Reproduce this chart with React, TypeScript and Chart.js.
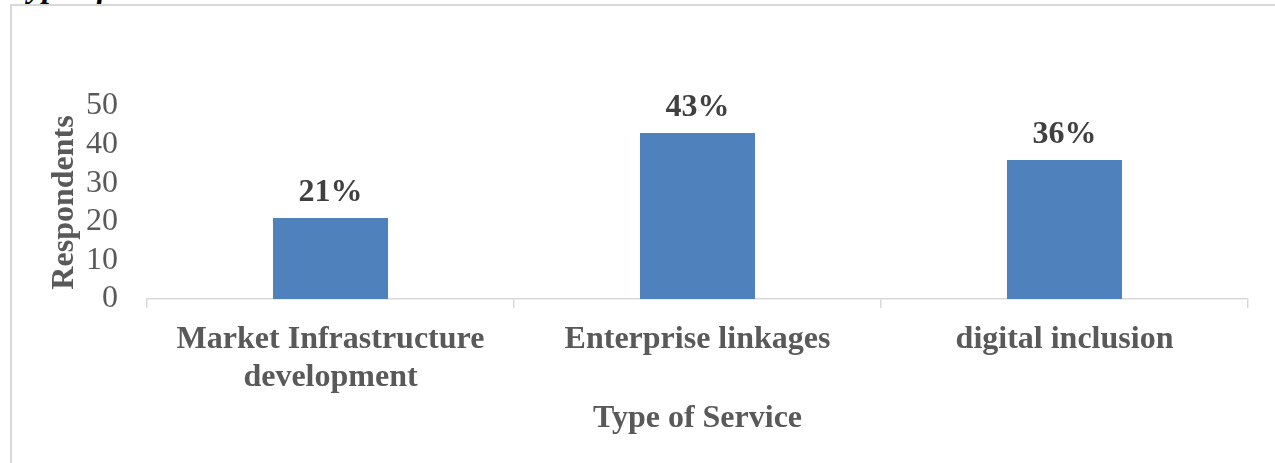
import React, { useEffect, useRef } from "react";
import { Chart, registerables } from "chart.js";

Chart.register(...registerables);

const categories: (string | string[])[] = [
  ["Market Infrastructure", "development"],
  "Enterprise linkages",
  "digital inclusion",
];
const respondents: number[] = [21, 43, 36];
const percentLabels: string[] = ["21%", "43%", "36%"];
const yTicks: number[] = [0, 10, 20, 30, 40, 50];

const SERIF = "'Liberation Serif', 'Times New Roman', serif";

const valueLabelPlugin = {
  id: "valueLabels",
  afterDatasetsDraw(chart: any) {
    const ctx = chart.ctx;
    const meta = chart.getDatasetMeta(0);
    ctx.save();
    ctx.font = `bold 32px ${SERIF}`;
    ctx.fillStyle = "#404040";
    ctx.textAlign = "center";
    ctx.textBaseline = "alphabetic";
    meta.data.forEach((bar: any, i: number) => {
      ctx.fillText(percentLabels[i], bar.x, bar.y - 17);
    });
    ctx.restore();
  },
};

export default function App() {
  const ref = useRef<HTMLCanvasElement | null>(null);

  useEffect(() => {
    if (!ref.current) return;
    const chart = new Chart(ref.current, {
      type: "bar",
      data: {
        labels: categories,
        datasets: [
          {
            label: "Respondents",
            data: respondents,
            backgroundColor: "#4f81bd",
            borderWidth: 0,
            categoryPercentage: 1,
            barPercentage: 0.3135,
          },
        ],
      },
      plugins: [valueLabelPlugin],
      options: {
        animation: false,
        responsive: false,
        maintainAspectRatio: false,
        layout: { padding: { left: 0, right: 27, top: 106, bottom: 0 } },
        plugins: {
          legend: { display: false },
          tooltip: { enabled: false },
        },
        scales: {
          x: {
            afterFit: (scale: any) => {
              scale.height = 164;
            },
            grid: {
              display: true,
              offset: true,
              drawOnChartArea: false,
              drawTicks: true,
              tickLength: 9,
              color: "#d9d9d9",
              lineWidth: 1.5,
            },
            border: { display: true, color: "#d9d9d9", width: 1.5 },
            ticks: {
              color: "#595959",
              padding: 13,
              maxRotation: 0,
              autoSkip: false,
              font: { family: SERIF, size: 32, weight: "bold", lineHeight: 1.19 },
            },
            title: {
              display: true,
              text: "Type of Service",
              color: "#595959",
              padding: { top: 4, bottom: 25 },
              font: { family: SERIF, size: 32, weight: "bold", lineHeight: 1.2 },
            },
          },
          y: {
            min: 0,
            max: 50,
            afterBuildTicks: (axis: any) => {
              axis.ticks = yTicks.map((v) => ({ value: v }));
            },
            afterFit: (scale: any) => {
              scale.width = 147;
            },
            grid: { display: false, drawTicks: false },
            border: { display: false },
            ticks: {
              color: "#595959",
              padding: 29,
              autoSkip: false,
              font: { family: SERIF, size: 32 },
            },
            title: {
              display: true,
              text: "Respondents",
              color: "#595959",
              padding: { top: 46, bottom: 4 },
              font: { family: SERIF, size: 32, weight: "bold", lineHeight: 1.2 },
            },
          },
        },
      },
    });
    return () => chart.destroy();
  }, []);

  return (
    <div
      style={{
        position: "absolute",
        left: 0,
        top: 0,
        width: 1275,
        height: 463,
        overflow: "hidden",
        background: "#ffffff",
      }}
    >
      <div
        style={{
          position: "absolute",
          left: 10,
          top: -30,
          fontFamily: SERIF,
          fontSize: 32,
          lineHeight: "32px",
          fontWeight: "bold",
          fontStyle: "italic",
          color: "#000000",
          whiteSpace: "nowrap",
        }}
      >
        Type of Service
      </div>
      <div
        style={{
          position: "absolute",
          left: 10,
          top: 4,
          width: 1300,
          height: 500,
          borderTop: "2px solid #d9d9d9",
          borderLeft: "2px solid #d9d9d9",
        }}
      />
      <canvas
        ref={ref}
        width={1275}
        height={463}
        style={{ position: "absolute", left: 0, top: 0, width: 1275, height: 463 }}
      />
    </div>
  );
}
